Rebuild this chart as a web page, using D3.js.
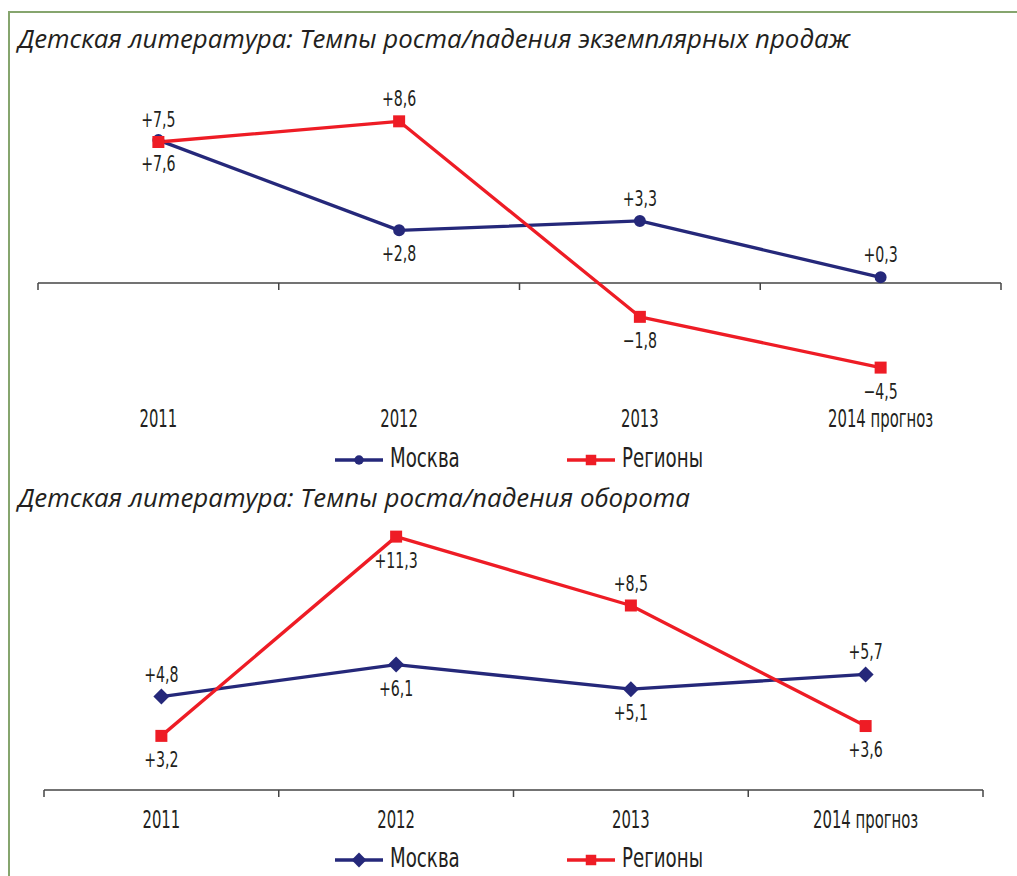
<!DOCTYPE html>
<html><head><meta charset="utf-8">
<script src="https://cdn.jsdelivr.net/npm/d3@7"></script>
<style>html,body{margin:0;padding:0;background:#fff;}svg{display:block;}</style>
</head><body>
<script>
// ---- data ----
const categories = ["2011", "2012", "2013", "2014 прогноз"];
const seriesNames = ["Москва", "Регионы"];
const titleSales = "Детская литература: Темпы роста/падения экземплярных продаж";
const titleTurnover = "Детская литература: Темпы роста/падения оборота";
const salesMoscow = [7.6, 2.8, 3.3, 0.3];
const salesRegions = [7.5, 8.6, -1.8, -4.5];
const turnoverMoscow = [4.8, 6.1, 5.1, 5.7];
const turnoverRegions = [3.2, 11.3, 8.5, 3.6];
// label placement (above / below the marker)
const salesMoscowSide = ["below", "below", "above", "above"];
const salesRegionsSide = ["above", "above", "below", "below"];
const turnoverMoscowSide = ["above", "below", "below", "above"];
const turnoverRegionsSide = ["below", "below", "above", "below"];

// ---- style ----
const W = 1017, H = 876;
const BLUE = "#25287a", RED = "#ee1c25", INK = "#231f20", AXIS = "#444";
const COND = "'DejaVu Sans Condensed','DejaVu Sans',sans-serif";

const svg = d3.select("body").append("svg").attr("width", W).attr("height", H);

// frame
svg.append("path").attr("d", `M9,${H + 5}V12H${W + 5}`)
  .attr("fill", "none").attr("stroke", "#86a56e").attr("stroke-width", 2);

function txt(g, x, y, s, o) {
  return g.append("text")
    .attr("transform", `translate(${x},${y}) scale(${o.sx || 1},1)`)
    .attr("text-anchor", o.anchor || "middle")
    .attr("font-family", o.family || COND)
    .attr("font-size", o.size)
    .attr("font-style", o.style || "normal")
    .attr("fill", INK)
    .text(s);
}
const fmt = v => (v >= 0 ? "+" : "\u2212") + Math.abs(v).toFixed(1).replace(".", ",");

function marker(kind, legend) {
  if (kind === "circle") return { d: d3.symbol(d3.symbolCircle, legend ? 70 : 113)(), rot: 0 };
  if (kind === "square") return { d: d3.symbol(d3.symbolSquare, legend ? 110 : 144)(), rot: 0 };
  return { d: d3.symbol(d3.symbolSquare, legend ? 110 : 128)(), rot: 45 };
}

function drawChart(cfg) {
  const g = svg.append("g");
  txt(g, 18, cfg.titleY, cfg.title, { family: "'Open Sans',sans-serif", size: 25, style: "italic", anchor: "start" })
    .attr("textLength", cfg.titleLen).attr("lengthAdjust", "spacingAndGlyphs");

  const x = d3.scaleBand().domain(categories).range(cfg.xRange);
  const cx = c => x(c) + x.bandwidth() / 2;
  const y = d3.scaleLinear().domain(cfg.yDomain).range(cfg.yRange);
  const axisY = y(cfg.axisAt);

  // axis line & boundary ticks
  g.append("line").attr("x1", cfg.xRange[0]).attr("x2", cfg.xRange[1])
    .attr("y1", axisY).attr("y2", axisY).attr("stroke", AXIS).attr("stroke-width", 1.5);
  const edges = categories.map(c => x(c)).concat([cfg.xRange[1]]);
  g.selectAll(null).data(edges).join("line")
    .attr("x1", d => d).attr("x2", d => d).attr("y1", axisY).attr("y2", axisY + 7)
    .attr("stroke", AXIS).attr("stroke-width", 1.5);
  categories.forEach(c => txt(g, cx(c), cfg.catY, c, { size: 25, sx: 0.66 }));

  const line = d3.line().x((d, i) => cx(categories[i])).y(d => y(d));
  cfg.series.forEach(s => {
    g.append("path").datum(s.values).attr("d", line)
      .attr("fill", "none").attr("stroke", s.color).attr("stroke-width", 3.3).attr("stroke-linejoin", "round");
  });
  cfg.series.forEach(s => {
    const m = marker(s.marker, false);
    g.selectAll(null).data(s.values).join("path")
      .attr("transform", (d, i) => `translate(${cx(categories[i])},${y(d)}) rotate(${m.rot})`)
      .attr("d", m.d).attr("fill", s.color);
  });
  cfg.series.forEach(s => {
    s.values.forEach((v, i) => {
      const yy = y(v) + (s.side[i] === "above" ? -15 : 31);
      txt(g, cx(categories[i]), yy, fmt(v), { size: 21, sx: 0.75 });
    });
  });

  // legend
  const L = [{ x1: 335, x2: 383, tx: 390 }, { x1: 567, x2: 615, tx: 622 }];
  cfg.series.forEach((s, k) => {
    const l = L[k];
    g.append("line").attr("x1", l.x1).attr("x2", l.x2).attr("y1", cfg.legY).attr("y2", cfg.legY)
      .attr("stroke", s.color).attr("stroke-width", 3.3);
    const m = marker(s.marker, true);
    g.append("path").attr("transform", `translate(${(l.x1 + l.x2) / 2},${cfg.legY}) rotate(${m.rot})`)
      .attr("d", m.d).attr("fill", s.color);
    txt(g, l.tx, cfg.legY + 7, s.name, { size: 27, sx: 0.75, anchor: "start" });
  });
}

drawChart({
  title: titleSales, titleY: 48, titleLen: 832,
  xRange: [38, 1001], yDomain: [-5, 9], yRange: [377, 113.8], axisAt: 0, catY: 427,
  legY: 460,
  series: [
    { name: seriesNames[0], values: salesMoscow, side: salesMoscowSide, color: BLUE, marker: "circle" },
    { name: seriesNames[1], values: salesRegions, side: salesRegionsSide, color: RED, marker: "square" }
  ]
});
drawChart({
  title: titleTurnover, titleY: 507, titleLen: 672,
  xRange: [44, 983], yDomain: [1, 12], yRange: [790, 519.4], axisAt: 1, catY: 828,
  legY: 860,
  series: [
    { name: seriesNames[0], values: turnoverMoscow, side: turnoverMoscowSide, color: BLUE, marker: "diamond" },
    { name: seriesNames[1], values: turnoverRegions, side: turnoverRegionsSide, color: RED, marker: "square" }
  ]
});
</script>
</body></html>
